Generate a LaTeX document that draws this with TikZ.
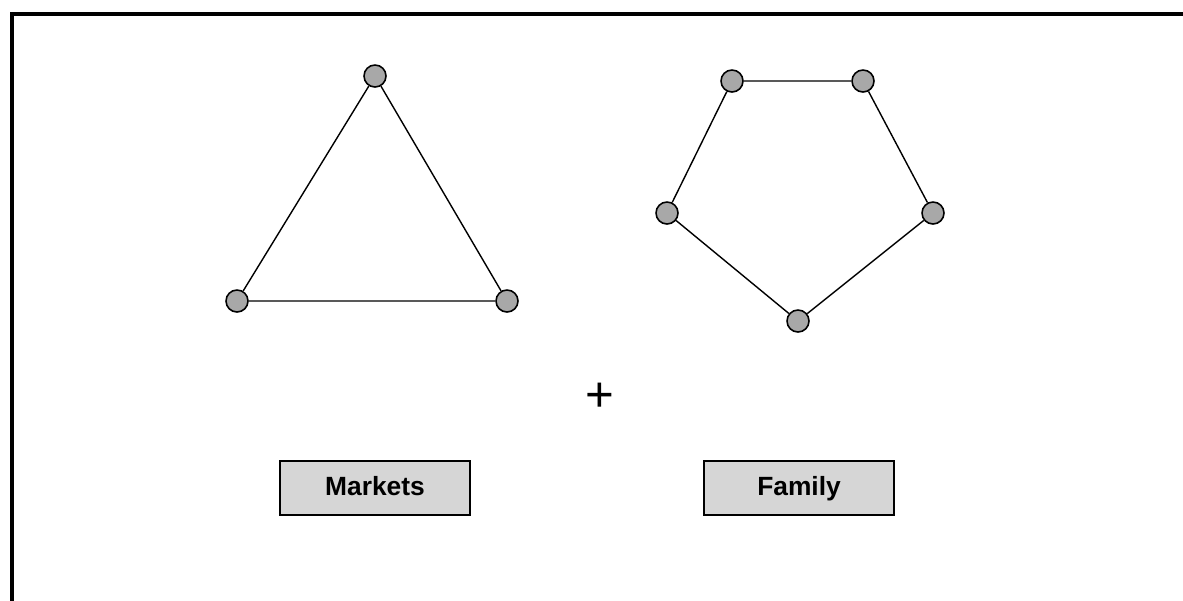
\documentclass[tikz,border=0pt]{standalone}
\usepackage{fontspec}
\setmainfont{Liberation Sans}
\usepackage{xcolor}
\definecolor{cdot}{HTML}{A8A8A8}
\definecolor{cbox}{HTML}{D6D6D6}

\begin{document}
\begin{tikzpicture}[x=0.02cm, y=-0.02cm,
  actor/.style={circle, draw=black, fill=cdot, line width=0.9pt,
                minimum size=0.44cm, inner sep=0pt},
  label/.style={draw=black, fill=cbox, line width=1.1pt,
                minimum width=3.8cm, minimum height=1.08cm,
                text height=0.86em, text depth=0pt,
                font=\fontsize{15}{17}\selectfont\bfseries},
  tie/.style={line width=0.8pt}
]
  \useasboundingbox (0,0) rectangle (1183,600);
  \clip (0,0) rectangle (1183,600);
  \draw[line width=1.8pt] (12,620) -- (12,14) -- (1200,14);

  % triangle
  \node[actor] (m1) at (375,76) {};
  \node[actor] (m2) at (237,301) {};
  \node[actor] (m3) at (507,301) {};
  \draw[tie] (m1) -- (m2) -- (m3) -- (m1);

  % pentagon
  \node[actor] (f1) at (732,81) {};
  \node[actor] (f2) at (863,81) {};
  \node[actor] (f3) at (933,213) {};
  \node[actor] (f4) at (798,321) {};
  \node[actor] (f5) at (667,213) {};
  \draw[tie] (f1) -- (f2) -- (f3) -- (f4) -- (f5) -- (f1);

  \node[font=\fontsize{28}{30}\selectfont] (plus) at (600,397) {+};

  \node[label] (mk) at (375,488) {Markets};
  \node[label] (fm) at (799,488) {Family};
\end{tikzpicture}
\end{document}
